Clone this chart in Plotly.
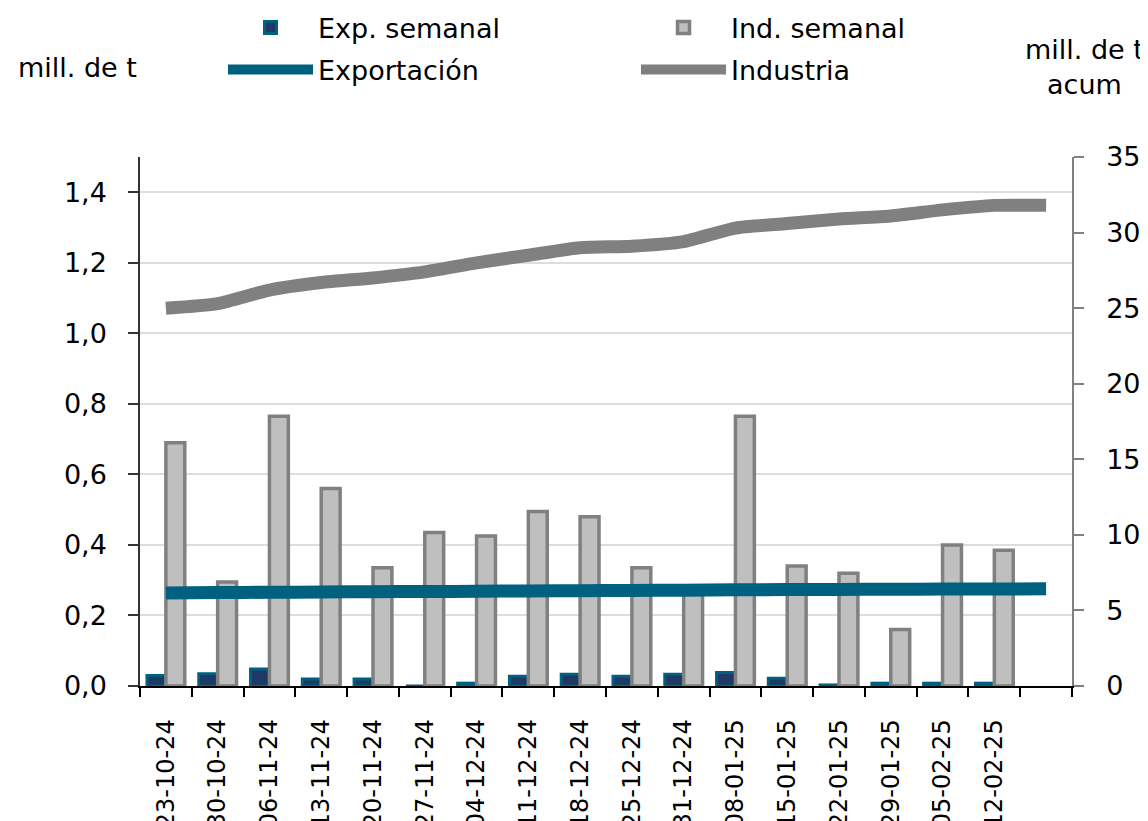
import plotly.graph_objects as go

# ---- data ----
dates = ["23-10-24", "30-10-24", "06-11-24", "13-11-24", "20-11-24", "27-11-24",
         "04-12-24", "11-12-24", "18-12-24", "25-12-24", "31-12-24", "08-01-25",
         "15-01-25", "22-01-25", "29-01-25", "05-02-25", "12-02-25"]
exp_semanal = [0.03, 0.035, 0.048, 0.02, 0.02, 0.0, 0.008, 0.028, 0.033, 0.028,
               0.033, 0.038, 0.022, 0.003, 0.008, 0.008, 0.008]
ind_semanal = [0.69, 0.295, 0.765, 0.56, 0.335, 0.435, 0.425, 0.495, 0.48, 0.335,
               0.28, 0.765, 0.34, 0.32, 0.16, 0.40, 0.385]
# accumulated (right axis) - one extra point in the empty last slot
exportacion = [6.15, 6.18, 6.2, 6.22, 6.24, 6.25, 6.27, 6.29, 6.31, 6.32,
               6.34, 6.36, 6.38, 6.39, 6.40, 6.41, 6.42, 6.43]
industria = [25.0, 25.3, 26.2, 26.7, 27.0, 27.4, 28.0, 28.5, 29.0, 29.1,
             29.4, 30.3, 30.6, 30.9, 31.1, 31.5, 31.8, 31.8]

n_slots = len(industria)
x_bars = list(range(len(dates)))
x_lines = list(range(n_slots))

FONT = "DejaVu Sans"
# page body has an 8px margin -> figure coordinates = page coordinates - 8
OFF = 8
W, H = 1148, 821
L = 140 - OFF
T = 157 - OFF
R = W - (1072 - OFF)
B = H - (686 - OFF)
PW = W - L - R
PH = H - T - B

def px_x(p):  # page pixel -> paper x
    return (p - 140) / PW

def px_y(p):  # page pixel -> paper y
    return (686 - p) / PH

fig = go.Figure()
fig.add_trace(go.Bar(
    x=x_bars, y=exp_semanal, name="Exp. semanal",
    marker=dict(color="#1F3864", line=dict(color="#006080", width=3)),
    legend="legend",
))
fig.add_trace(go.Bar(
    x=x_bars, y=ind_semanal, name="Ind. semanal",
    marker=dict(color="#BFBFBF", line=dict(color="#808080", width=3.5)),
    legend="legend",
))
fig.add_trace(go.Scatter(
    x=x_lines, y=exportacion, name="Exportación", yaxis="y2", mode="lines",
    line=dict(color="#006080", width=13, shape="spline", smoothing=0.6),
    legend="legend2",
))
fig.add_trace(go.Scatter(
    x=x_lines, y=industria, name="Industria", yaxis="y2", mode="lines",
    line=dict(color="#808080", width=13, shape="spline", smoothing=0.6),
    legend="legend2",
))

leg_common = dict(
    orientation="h", xanchor="left", yanchor="middle",
    font=dict(family=FONT, size=27), itemwidth=85,
    entrywidth=313, entrywidthmode="pixels", bgcolor="rgba(0,0,0,0)",
    tracegroupgap=0, traceorder="normal",
)

fig.update_layout(
    width=W, height=H,
    margin=dict(l=L, r=R, t=T, b=B, autoexpand=False),
    paper_bgcolor="white", plot_bgcolor="white",
    font=dict(family=FONT, size=27, color="black"),
    separators=",.",
    barmode="group", bargap=0.27, bargroupgap=0,
    xaxis=dict(
        range=[-0.5, n_slots - 0.5],
        tickmode="array", tickvals=x_bars, ticktext=dates,
        tickangle=-90, ticks="", showgrid=False,
        showline=True, linecolor="black", linewidth=1.5,
        tickfont=dict(family=FONT, size=24),
        automargin=False, zeroline=False, ticklabelstandoff=22,
        minor=dict(tickmode="array", tickvals=[i - 0.5 for i in range(n_slots + 1)],
                   ticks="outside", ticklen=9, tickcolor="black", tickwidth=1.5,
                   showgrid=False),
    ),
    yaxis=dict(
        range=[0, 1.5], tickmode="linear", tick0=0, dtick=0.2, tickformat=".1f",
        showgrid=True, gridcolor="#DDDDDD", gridwidth=1.5,
        showline=True, linecolor="#333333", linewidth=1.5,
        ticks="outside", ticklen=10, tickcolor="#333333", tickwidth=1.5,
        tickfont=dict(family=FONT, size=27), automargin=False, zeroline=False,
        ticklabelstandoff=16,
    ),
    yaxis2=dict(
        range=[0, 35], tickmode="linear", tick0=0, dtick=5,
        overlaying="y", side="right", showgrid=False,
        showline=True, linecolor="#808080", linewidth=1.5,
        ticks="outside", ticklen=10, tickcolor="#808080", tickwidth=1.5,
        tickfont=dict(family=FONT, size=27), automargin=False, zeroline=False,
        ticklabelstandoff=17,
    ),
    legend=dict(x=px_x(223), y=px_y(28), **leg_common),
    legend2=dict(x=px_x(223), y=px_y(70), **leg_common),
    annotations=[
        dict(text="mill. de t", xref="paper", yref="paper", x=px_x(77), y=px_y(68),
             xanchor="center", yanchor="middle", showarrow=False,
             font=dict(family=FONT, size=27)),
        dict(text="mill. de t<br>acum", xref="paper", yref="paper", x=px_x(1084), y=px_y(67),
             xanchor="center", yanchor="middle", showarrow=False,
             font=dict(family=FONT, size=27)),
    ],
)

fig.write_html("out.html")
